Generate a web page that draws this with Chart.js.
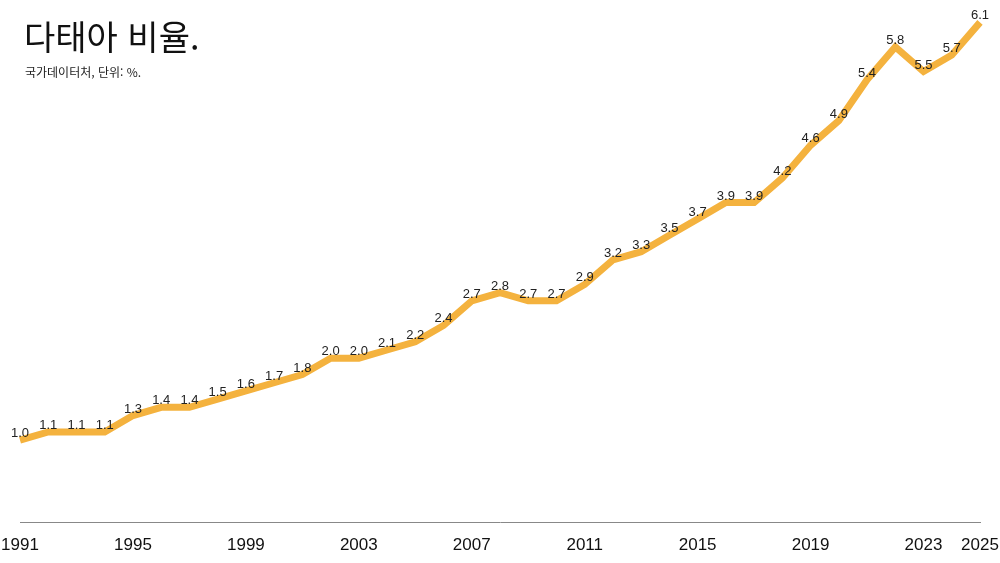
<!DOCTYPE html>
<html lang="ko">
<head>
<meta charset="utf-8">
<title>다태아 비율</title>
<script src="https://cdn.jsdelivr.net/npm/chart.js@4/dist/chart.umd.min.js"></script>
<style>
	html, body { margin: 0; padding: 0; background: #fff; }
	#wrap { position: relative; width: 1000px; height: 563px; }
	#title {
		position: absolute; left: 24px; top: 16px; margin: 0;
		font-family: "Noto Sans CJK KR", "Noto Sans", sans-serif;
		font-size: 34px; font-weight: 400; color: #111; line-height: 1.2;
	}
	#sub {
		position: absolute; left: 25px; top: 63px; margin: 0;
		font-family: "Noto Sans CJK KR", "Noto Sans", sans-serif;
		font-size: 12px; color: #222;
	}
</style>
</head>
<body>
<div id="wrap">
	<canvas id="rateChart"></canvas>
	<h1 id="title">다태아 비율.</h1>
	<p id="sub">국가데이터처, 단위: %.</p>
</div>
<script>
'use strict';

// Years and twin/multiple birth share (%)
const years = [1991, 1992, 1993, 1994, 1995, 1996, 1997, 1998, 1999, 2000,
	2001, 2002, 2003, 2004, 2005, 2006, 2007, 2008, 2009, 2010,
	2011, 2012, 2013, 2014, 2015, 2016, 2017, 2018, 2019, 2020,
	2021, 2022, 2023, 2024, 2025];
const rates = [1.0, 1.1, 1.1, 1.1, 1.3, 1.4, 1.4, 1.5, 1.6, 1.7,
	1.8, 2.0, 2.0, 2.1, 2.2, 2.4, 2.7, 2.8, 2.7, 2.7,
	2.9, 3.2, 3.3, 3.5, 3.7, 3.9, 3.9, 4.2, 4.6, 4.9,
	5.4, 5.8, 5.5, 5.7, 6.1];
const shownYears = [1991, 1995, 1999, 2003, 2007, 2011, 2015, 2019, 2023, 2025];

// Draw value labels above each point
const valueLabels = {
	id: 'valueLabels',
	afterDatasetsDraw(chart) {
		const ctx = chart.ctx;
		const meta = chart.getDatasetMeta(0);
		ctx.save();
		ctx.font = '13px "Liberation Sans", Arial, sans-serif';
		ctx.fillStyle = '#222';
		ctx.textAlign = 'center';
		ctx.textBaseline = 'alphabetic';
		meta.data.forEach(function (pt, i) {
			ctx.fillText(rates[i].toFixed(1), pt.x, pt.y - 3);
		});
		ctx.restore();
	}
};

const rateChart = new Chart(document.getElementById('rateChart'), {
	type: 'line',
	data: {
		labels: years,
		datasets: [
			{
				data: rates,
				borderColor: '#F4B23E',
				borderWidth: 7,
				pointRadius: 0,
				tension: 0,
				borderJoinStyle: 'miter'
			}
		]
	},
	options: {
		responsive: true,
		maintainAspectRatio: false,
		animation: false,
		layout: { padding: { left: 20, right: 20, top: 6, bottom: 0 } },
		plugins: {
			legend: { display: false },
			tooltip: { enabled: false }
		},
		scales: {
			x: {
				offset: false,
				grid: { display: false, drawTicks: false },
				border: { display: true, color: '#888', width: 1 },
				ticks: {
					autoSkip: false,
					maxRotation: 0,
					padding: 13,
					color: '#111',
					font: { family: '"Liberation Sans", Arial, sans-serif', size: 17 },
					callback: function (val, i) {
						return shownYears.indexOf(years[i]) >= 0 ? String(years[i]) : '';
					}
				},
				afterFit: function (scale) {
					scale.height = 41;
					// let layout padding alone decide the side margins
					scale.paddingLeft = 0;
					scale.paddingRight = 0;
				}
			},
			y: {
				display: false,
				min: 0,
				max: 6.3
			}
		}
	},
	plugins: [valueLabels]
});
</script>
</body>
</html>
